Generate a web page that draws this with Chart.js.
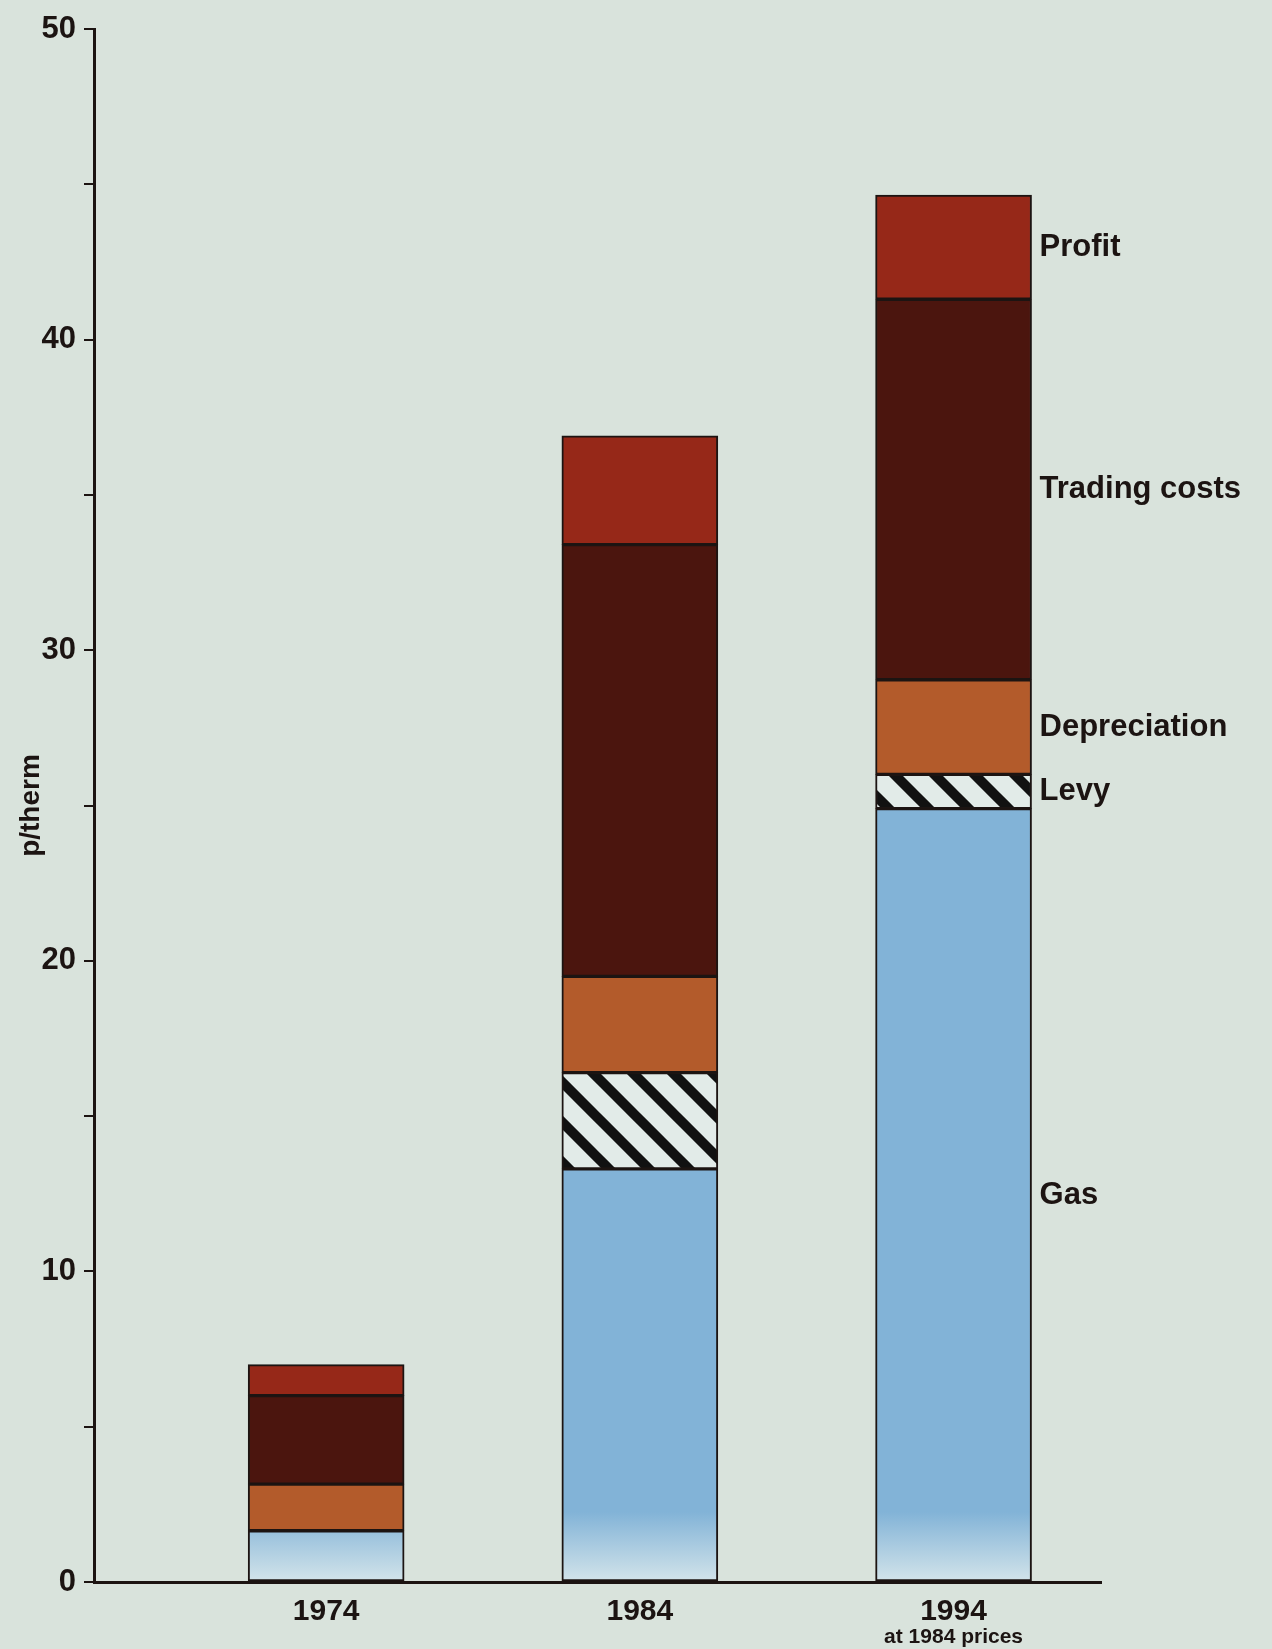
<!DOCTYPE html>
<html>
<head>
<meta charset="utf-8">
<script src="https://cdn.jsdelivr.net/npm/chart.js@4.4.1/dist/chart.umd.min.js"></script>
<style>
  html, body { margin: 0; padding: 0; background: #d9e3dc; }
  #wrap { width: 1272px; height: 1649px; }
</style>
</head>
<body>
<div id="wrap"><canvas id="gasChart" width="1272" height="1649"></canvas></div>
<script>
// values, p/therm
var years = [1974, 1984, 1994];
var gas = [1.65, 13.3, 24.9];
var levy = [0, 3.1, 1.1];
var depreciation = [1.5, 3.1, 3.05];
var trading_costs = [2.85, 13.9, 12.25];
var profit = [1.0, 3.5, 3.35];
var series_names = ['Gas', 'Levy', 'Depreciation', 'Trading costs', 'Profit'];
var y_ticks = [0, 10, 20, 30, 40, 50];

var ink = '#1c1412';
var font_name = '"Liberation Sans", Arial, Helvetica, sans-serif';

function hatch() {
    var c = document.createElement('canvas');
    c.width = 40; c.height = 40;
    var x = c.getContext('2d');
    x.fillStyle = '#e2ebe8';
    x.fillRect(0, 0, 40, 40);
    x.strokeStyle = '#111';
    x.lineWidth = 10;
    x.beginPath();
    [-40, 0, 40].forEach(function (k) {
        x.moveTo(k - 10, -10);
        x.lineTo(k + 50, 50);
    });
    x.stroke();
    return x.createPattern(c, 'repeat');
}

function gasFill(context) {
    var chart = context.chart;
    if (!chart.chartArea) return '#82b3d7';
    var y0 = chart.scales.y.getPixelForValue(0);
    var g = chart.ctx.createLinearGradient(0, y0, 0, y0 - 70);
    g.addColorStop(0, '#d3e4ea');
    g.addColorStop(1, '#82b3d7');
    return g;
}

function toPoints(arr) {
    return arr.map(function (v, i) { return { x: years[i], y: v }; });
}

var fills = [gasFill, hatch(), '#b35b2b', '#4b150e', '#962818'];
var all_series = [gas, levy, depreciation, trading_costs, profit];

var datasets = all_series.map(function (s, i) {
    return {
        label: series_names[i],
        data: toPoints(s),
        backgroundColor: fills[i],
        borderColor: ink,
        borderWidth: 2,
        borderSkipped: false,
        barThickness: 156
    };
});

var paperBg = {
    id: 'paperBg',
    beforeDraw: function (chart) {
        var c = chart.ctx;
        c.save();
        c.fillStyle = '#d9e3dc';
        c.fillRect(0, 0, chart.width, chart.height);
        c.restore();
    }
};

// names beside the last bar and the note under 1994
var sideLabels = {
    id: 'sideLabels',
    afterDraw: function (chart) {
        var c = chart.ctx;
        var xs = chart.scales.x, ys = chart.scales.y;
        var last = years.length - 1;
        var right = xs.getPixelForValue(years[last]) + 78 + 8;
        c.save();
        c.fillStyle = ink;
        c.font = 'bold 31px ' + font_name;
        c.textBaseline = 'middle';
        c.textAlign = 'left';
        var base = 0;
        all_series.forEach(function (s, i) {
            var v = s[last];
            var mid = ys.getPixelForValue(base + v / 2);
            base += v;
            c.fillText(series_names[i], right, mid);
        });
        c.font = 'bold 21px ' + font_name;
        c.textAlign = 'center';
        c.fillText('at 1984 prices', xs.getPixelForValue(years[last]), 1637);
        c.restore();
    }
};

var ctx = document.getElementById('gasChart').getContext('2d');
var myChart = new Chart(ctx, {
    type: 'bar',
    data: { datasets: datasets },
    plugins: [paperBg, sideLabels],
    options: {
        responsive: false,
        animation: false,
        layout: { padding: { top: 29, right: 171, bottom: 0, left: 0 } },
        plugins: {
            legend: { display: false },
            tooltip: { enabled: false }
        },
        scales: {
            x: {
                type: 'linear',
                stacked: true,
                offset: false,
                min: 1966.6,
                max: 1998.7,
                afterBuildTicks: function (scale) {
                    scale.ticks = years.map(function (v) { return { value: v }; });
                },
                afterFit: function (scale) { scale.height = 67; },
                grid: { display: false, drawTicks: false },
                border: { display: true, color: ink, width: 3 },
                ticks: {
                    color: ink,
                    padding: 12,
                    maxRotation: 0,
                    font: { family: font_name, size: 30, weight: 'bold' },
                    callback: function (v) { return String(v); }
                }
            },
            y: {
                stacked: true,
                min: 0,
                max: 50,
                afterFit: function (scale) { scale.width = 94; },
                grid: {
                    drawOnChartArea: false,
                    drawTicks: true,
                    tickLength: 10,
                    color: ink,
                    lineWidth: 2
                },
                border: { display: true, color: ink, width: 3 },
                ticks: {
                    stepSize: 5,
                    color: ink,
                    padding: 8,
                    font: { family: font_name, size: 31, weight: 'bold' },
                    callback: function (v) { return y_ticks.indexOf(v) >= 0 ? String(v) : ''; }
                },
                title: {
                    display: true,
                    text: 'p/therm',
                    color: ink,
                    padding: { top: 14, bottom: 0 },
                    font: { family: font_name, size: 28, weight: 'bold' }
                }
            }
        }
    }
});
</script>
</body>
</html>
